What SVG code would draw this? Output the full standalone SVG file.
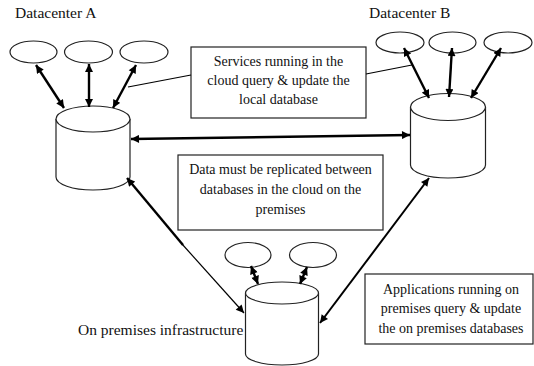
<svg xmlns="http://www.w3.org/2000/svg" width="534" height="366" viewBox="0 0 534 366">
<style>
.sh{fill:#fff;stroke:#222;stroke-width:1.2}
.box{fill:#fff;stroke:#222;stroke-width:1.2}
.lbl{font-family:"Liberation Serif","Times New Roman",serif;font-size:15.5px;fill:#111}
.txt{font-family:"Liberation Serif","Times New Roman",serif;font-size:14px;fill:#111;text-anchor:middle}
.ar{fill:none;stroke:#000;stroke-width:2.4}
.thin{fill:none;stroke:#000;stroke-width:1.2}
</style>
<defs>
<marker id="ah" viewBox="0 0 10 10" refX="10" refY="5" markerWidth="9" markerHeight="8" markerUnits="userSpaceOnUse" orient="auto-start-reverse">
<path d="M0,0 L10,5 L0,10 z" fill="#000"/>
</marker>
</defs>
<rect width="534" height="366" fill="#fff"/>

<g id="datacenter-a">
<text class="lbl" x="15" y="18">Datacenter A</text>
<ellipse class="sh" cx="33.5" cy="52" rx="23.5" ry="11"/>
<ellipse class="sh" cx="88.5" cy="52" rx="24" ry="11"/>
<ellipse class="sh" cx="144" cy="52" rx="24" ry="11"/>
<path class="sh" d="M56,119 L56,177 A37,13 0 0 0 130,177 L130,119"/>
<ellipse class="sh" cx="93" cy="119" rx="37" ry="13"/>
</g>

<g id="datacenter-b">
<text class="lbl" x="369" y="18">Datacenter B</text>
<ellipse class="sh" cx="400" cy="42.5" rx="24" ry="10.5"/>
<ellipse class="sh" cx="452.5" cy="42.5" rx="23.5" ry="10.5"/>
<ellipse class="sh" cx="508" cy="42.5" rx="24" ry="10.5"/>
<path class="sh" d="M410.5,107 L410.5,165 A37.5,13 0 0 0 485.5,165 L485.5,107"/>
<ellipse class="sh" cx="448" cy="107" rx="37.5" ry="13.5"/>
</g>

<g id="on-premises">
<text class="lbl" x="78" y="335">On premises infrastructure</text>
<ellipse class="sh" cx="248" cy="255" rx="23" ry="12.5"/>
<ellipse class="sh" cx="313" cy="255" rx="23.5" ry="12.5"/>
<path class="sh" d="M245.5,293 L245.5,354 A36.5,11 0 0 0 318.5,354 L318.5,293"/>
<ellipse class="sh" cx="282" cy="293" rx="36.5" ry="11"/>
</g>

<g id="note-services">
<rect class="box" x="191" y="47" width="175" height="71"/>
<text class="txt" x="278.5" y="66">Services running in the</text>
<text class="txt" x="278.5" y="85">cloud query &amp; update the</text>
<text class="txt" x="278.5" y="104">local database</text>
</g>

<g id="note-replication">
<rect class="box" x="178" y="155" width="205" height="75"/>
<text class="txt" x="280.5" y="174">Data must be replicated between</text>
<text class="txt" x="280.5" y="194">databases in the cloud on the</text>
<text class="txt" x="280.5" y="214">premises</text>
</g>

<g id="note-applications">
<rect class="box" x="365" y="274" width="168" height="70"/>
<text class="txt" x="451" y="294">Applications running on</text>
<text class="txt" x="451" y="313">premises query &amp; update</text>
<text class="txt" x="451" y="333">the on premises databases</text>
</g>

<g id="connectors">
<path class="ar" d="M36,65 L64,108" marker-start="url(#ah)" marker-end="url(#ah)"/>
<path class="ar" d="M89,64 L89,107" marker-start="url(#ah)" marker-end="url(#ah)"/>
<path class="ar" d="M136,65 L113,108" marker-start="url(#ah)" marker-end="url(#ah)"/>
<path class="ar" d="M404,48 L429,98" marker-start="url(#ah)" marker-end="url(#ah)"/>
<path class="ar" d="M452,48 L449,97" marker-start="url(#ah)" marker-end="url(#ah)"/>
<path class="ar" d="M501,48 L471,98" marker-start="url(#ah)" marker-end="url(#ah)"/>
<path class="ar" d="M131,139 L410,135" marker-start="url(#ah)" marker-end="url(#ah)"/>
<path class="ar" d="M251,266 L258,284" marker-start="url(#ah)" marker-end="url(#ah)"/>
<path class="ar" d="M307,267 L300,284" marker-start="url(#ah)" marker-end="url(#ah)"/>
<path class="ar" d="M127,178 L183,245" marker-start="url(#ah)"/>
<path class="thin" d="M182,244 L244,313" marker-end="url(#ah)"/>
<path class="ar" style="stroke-width:2" d="M429,178 L320,323" marker-start="url(#ah)" marker-end="url(#ah)"/>
<path class="thin" d="M128,87 L191,75"/>
<path class="thin" d="M366,74 L412,65"/>
</g>
</svg>
